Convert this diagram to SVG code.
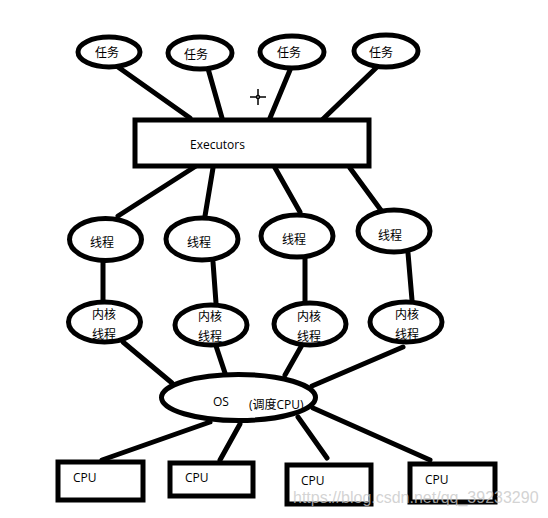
<svg xmlns="http://www.w3.org/2000/svg" width="548" height="518" viewBox="0 0 548 518">
<style>
.n{fill:#fff;stroke:#000;stroke-width:5}
.c line{stroke:#000;stroke-width:5;stroke-linecap:round}
text{font-family:"Open Sans","Noto Sans CJK SC",sans-serif;font-size:12px;fill:#000}
.wm{font-family:"Liberation Sans",sans-serif;font-size:16px;fill:#c8c8c8;fill-opacity:0.8}
</style>
<rect width="548" height="518" fill="#fff"/>
<g class="c" id="connectors">
<line x1="118" y1="67" x2="190" y2="118"/>
<line x1="207" y1="65" x2="222" y2="118"/>
<line x1="290" y1="70" x2="270" y2="118"/>
<line x1="377" y1="67" x2="322" y2="120"/>
<line x1="196" y1="166" x2="118" y2="216"/>
<line x1="213" y1="168" x2="205" y2="216"/>
<line x1="274" y1="166" x2="300" y2="212"/>
<line x1="350" y1="168" x2="383" y2="213"/>
<line x1="103" y1="262" x2="103" y2="300"/>
<line x1="213" y1="262" x2="216" y2="303"/>
<line x1="305" y1="258" x2="305" y2="302"/>
<line x1="408" y1="253" x2="412" y2="300"/>
<line x1="123" y1="342" x2="172" y2="383"/>
<line x1="216" y1="346" x2="225" y2="373"/>
<line x1="302" y1="345" x2="285" y2="375"/>
<line x1="403" y1="347" x2="312" y2="386"/>
<line x1="210" y1="422" x2="102" y2="460"/>
<line x1="240" y1="424" x2="220" y2="460"/>
<line x1="298" y1="417" x2="327" y2="458"/>
<line x1="313" y1="408" x2="430" y2="460"/>
</g>
<g id="task1"><ellipse class="n" cx="109" cy="52" rx="31" ry="15"/><text x="95" y="57">任务</text></g>
<g id="task2"><ellipse class="n" cx="200" cy="53" rx="32" ry="16"/><text x="184" y="59">任务</text></g>
<g id="task3"><ellipse class="n" cx="292" cy="52" rx="32" ry="16"/><text x="277" y="57">任务</text></g>
<g id="task4"><ellipse class="n" cx="386" cy="51" rx="32" ry="16"/><text x="369" y="57">任务</text></g>
<g id="executors"><rect class="n" x="135" y="120" width="234" height="46"/><text x="190" y="149">Executors</text></g>
<g id="thread1"><ellipse class="n" cx="105.5" cy="239.5" rx="36" ry="21"/><text x="90" y="247">线程</text></g>
<g id="thread2"><ellipse class="n" cx="202" cy="239" rx="36" ry="21"/><text x="187" y="247">线程</text></g>
<g id="thread3"><ellipse class="n" cx="297" cy="236" rx="36" ry="21"/><text x="282" y="244">线程</text></g>
<g id="thread4"><ellipse class="n" cx="394" cy="231" rx="36" ry="21"/><text x="378" y="240">线程</text></g>
<g id="kernel1"><ellipse class="n" cx="104.5" cy="322" rx="36" ry="20"/><text x="92" y="319">内核</text><text x="92" y="339">线程</text></g>
<g id="kernel2"><ellipse class="n" cx="211" cy="325" rx="36" ry="20"/><text x="198" y="321">内核</text><text x="198" y="341">线程</text></g>
<g id="kernel3"><ellipse class="n" cx="310" cy="324" rx="36" ry="21"/><text x="297" y="321">内核</text><text x="297" y="341">线程</text></g>
<g id="kernel4"><ellipse class="n" cx="406" cy="322" rx="36" ry="20"/><text x="395" y="319">内核</text><text x="395" y="339">线程</text></g>
<g id="os"><ellipse class="n" cx="238.5" cy="397.5" rx="77" ry="23"/><text x="213" y="406">OS</text><text x="249" y="409">(调度CPU)</text></g>
<g id="cpu1"><rect class="n" x="58" y="462" width="85" height="38"/><text x="73" y="482">CPU</text></g>
<g id="cpu2"><rect class="n" x="170" y="463" width="83" height="33"/><text x="185" y="482">CPU</text></g>
<g id="cpu3"><rect class="n" x="287" y="465" width="84" height="39"/><text x="301" y="485">CPU</text></g>
<g id="cpu4"><rect class="n" x="410" y="464" width="85" height="38"/><text x="425" y="484">CPU</text></g>
<g id="cursor" stroke="#000" stroke-width="1.5" fill="none">
<line x1="250" y1="97" x2="266" y2="97"/><line x1="258" y1="89" x2="258" y2="105"/><circle cx="258" cy="97" r="1.5" fill="#fff"/>
</g>
<text class="wm" x="293" y="503">https://blog.csdn.net/qq_39233290</text>
</svg>
